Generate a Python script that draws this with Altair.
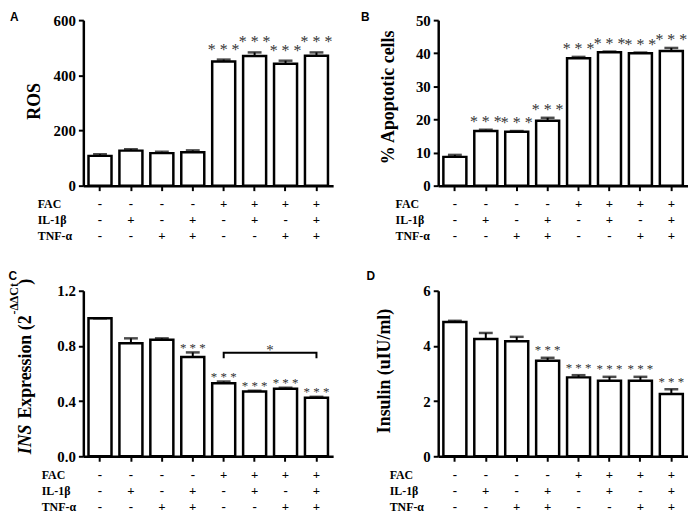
import altair as alt
import pandas as pd

# ---------------- data ----------------
groups = [1, 2, 3, 4, 5, 6, 7, 8]
fac = ["-", "-", "-", "-", "+", "+", "+", "+"]
il1b = ["-", "+", "-", "+", "-", "+", "-", "+"]
tnf = ["-", "-", "+", "+", "-", "-", "+", "+"]
row_names = ["FAC", "IL-1β", "TNF-α"]

ros_mean = [108, 127, 118, 121, 450, 470, 442, 471]
ros_err = [6, 5, 5, 7, 7, 13, 11, 12]
ros_sig = ["", "", "", "", "* * *", "* * *", "* * *", "* * *"]
ros_ticks = [0, 200, 400, 600]

apo_mean = [8.7, 16.5, 16.3, 19.6, 38.5, 40.3, 40.0, 40.7]
apo_err = [0.6, 0.4, 0.2, 0.9, 0.4, 0.2, 0.2, 0.9]
apo_sig = ["", "* * *", "* * *", "* * *", "* * *", "* * *", "* * *", "* * *"]
apo_ticks = [0, 10, 20, 30, 40, 50]

ins_mean = [1.0, 0.82, 0.845, 0.72, 0.53, 0.47, 0.49, 0.425]
ins_err = [0.0, 0.035, 0.01, 0.033, 0.012, 0.005, 0.007, 0.006]
ins_sig = ["", "", "", "* * *", "* * *", "* * *", "* * *", "* * *"]
ins_ticks = [0.0, 0.4, 0.8, 1.2]
bracket_groups = [5, 5, 8, 8]
bracket_y = [0.71, 0.75, 0.75, 0.71]
bracket_star = "*"

insulin_mean = [4.87, 4.25, 4.17, 3.46, 2.86, 2.74, 2.74, 2.26]
insulin_err = [0.04, 0.22, 0.16, 0.11, 0.08, 0.14, 0.14, 0.17]
insulin_sig = ["", "", "", "* * *", "* * *", "* * *", "* * *", "* * *"]
insulin_ticks = [0, 2, 4, 6]

# ---------------- style ----------------
SERIF = "Liberation Serif"
SANS = "Liberation Sans"
W, H = 252, 167
PI, PO = 0.256, 0.167
STEP = W / (8 - PI + 2 * PO)
ROW_OFF = [18.5, 35, 51]


def xenc():
    return alt.X(
        "g:O",
        scale=alt.Scale(paddingInner=PI, paddingOuter=PO),
        axis=alt.Axis(labels=False, title=None, ticks=True, tickSize=5, tickWidth=2,
                      tickColor="black", domainColor="black", domainWidth=2.5, grid=False),
    )


def one(text, x, y, **kw):
    return alt.Chart(alt.Data(values=[{"k": 0}])).mark_text(text=text, **kw).encode(
        x=alt.value(x), y=alt.value(y))


def panel(letter, letter_xy, mean, err, sig, domain, ticks, fmt, star_size, star_dy,
          titles, row_x, extras_fn=None):
    df = pd.DataFrame({"g": groups, "mean": mean, "err": err,
                       "top": [m + e for m, e in zip(mean, err)], "sig": sig})
    yscale = alt.Scale(domain=domain, nice=False, zero=True)
    yaxis = alt.Axis(values=ticks, format=fmt, title=None, grid=False,
                     domainWidth=2.5, domainColor="black", tickColor="black",
                     tickWidth=2, tickSize=5, labelFont=SERIF, labelFontWeight="bold",
                     labelFontSize=15, labelColor="black", labelPadding=3)

    def yenc(f):
        return alt.Y(f, scale=yscale, axis=yaxis)

    base = alt.Chart(df)
    bars = base.mark_bar(fill="white", stroke="black", strokeWidth=2.5).encode(
        x=xenc(), y=yenc("mean:Q"))
    errs = base.mark_rule(color="black", strokeWidth=2).encode(
        x=xenc(), y=yenc("mean:Q"), y2="top:Q")
    caps = base.mark_tick(color="black", size=14, thickness=2.5).encode(
        x=xenc(), y=yenc("top:Q"))
    stars = base.mark_text(font=SERIF, fontSize=star_size, baseline="alphabetic",
                           dy=star_dy, color="#333").encode(
        x=xenc(), y=yenc("top:Q"), text="sig:N")
    layers = [bars, errs, caps, stars]
    if extras_fn is not None:
        layers += extras_fn(yenc)
    layers.append(one(letter, letter_xy[0], letter_xy[1], font=SANS, fontWeight="bold",
                      fontSize=12, align="left", baseline="top", color="black"))
    layers += titles
    main = alt.layer(*layers)

    tdf = pd.DataFrame({"g": groups * 3,
                        "row": [row_names[0]] * 8 + [row_names[1]] * 8 + [row_names[2]] * 8,
                        "sign": fac + il1b + tnf})
    yrow = alt.Y("row:N", scale=alt.Scale(type="point", domain=row_names,
                                          range=[H + ROW_OFF[0], H + ROW_OFF[2]], padding=0),
                 axis=None)
    table = alt.Chart(tdf).mark_text(font=SERIF, fontWeight="bold", fontSize=13,
                                     color="black", baseline="middle").encode(
        x=xenc(), y=yrow, text="sign:N")
    rowlab = alt.Chart(pd.DataFrame({"row": row_names})).mark_text(
        font=SERIF, fontWeight="bold", fontSize=12, align="left", baseline="middle",
        color="black").encode(x=alt.value(row_x), y=yrow, text="row:N")
    tab = alt.layer(table, rowlab)
    return alt.layer(main, tab).resolve_scale(y="independent").properties(width=W, height=H)


def title(text, x, y, size=18, **kw):
    return one(text, x, y, font=SERIF, fontWeight="bold", fontSize=size, angle=270,
               align="center", baseline="middle", color="black", **kw)


# C composite title
c_titles = [
    one("INS", -57.5, 165, font=SERIF, fontWeight="bold", fontStyle="italic", fontSize=18,
        angle=270, align="left", baseline="middle", color="black"),
    one("Expression (2", -57.5, 129, font=SERIF, fontWeight="bold", fontSize=18,
        angle=270, align="left", baseline="middle", color="black"),
    one("-ΔΔCt", -69.5, 24, font=SERIF, fontWeight="bold", fontSize=12,
        angle=270, align="left", baseline="middle", color="black"),
    one(")", -57.5, -6, font=SERIF, fontWeight="bold", fontSize=18,
        angle=270, align="left", baseline="middle", color="black"),
]


def c_extras(yenc):
    bdf = pd.DataFrame({"g": bracket_groups, "y": bracket_y, "o": [0, 1, 2, 3]})
    line = alt.Chart(bdf).mark_line(color="black", strokeWidth=2).encode(
        x=xenc(), y=yenc("y:Q"), order="o:Q")
    sdf = pd.DataFrame({"g": [6], "y": [bracket_y[1]], "t": [bracket_star]})
    st = alt.Chart(sdf).mark_text(font=SERIF, fontSize=15, baseline="alphabetic",
                                  dx=STEP / 2, dy=2, color="#333").encode(
        x=xenc(), y=yenc("y:Q"), text="t:N")
    return [line, st]


pA = panel("A", (-74, -8.5), ros_mean, ros_err, ros_sig, [0, 600], ros_ticks, "d",
           16, -5, [title("ROS", -49, 82)], -46)
pB = panel("B", (-78, -8.5), apo_mean, apo_err, apo_sig, [0, 50], apo_ticks, "d",
           16, -3, [title("% Apoptotic cells", -50, 78)], -43)
pC = panel("C", (-75.5, -20), ins_mean, ins_err, ins_sig, [0, 1.2], ins_ticks, ".1f",
           13, -0.5, c_titles, -42, c_extras)
pD = panel("D", (-72.3, -20), insulin_mean, insulin_err, insulin_sig, [0, 6], insulin_ticks,
           "d", 13, -3.5, [title("Insulin (uIU/ml)", -54, 81)], -49)

chart = alt.vconcat(
    alt.hconcat(pA, pB, spacing=28),
    alt.hconcat(pC, pD, spacing=33),
    spacing=27,
).properties(padding=0, background="white").configure_view(stroke=None)

chart.save("out.html", embed_options={"renderer": "svg", "actions": False})
